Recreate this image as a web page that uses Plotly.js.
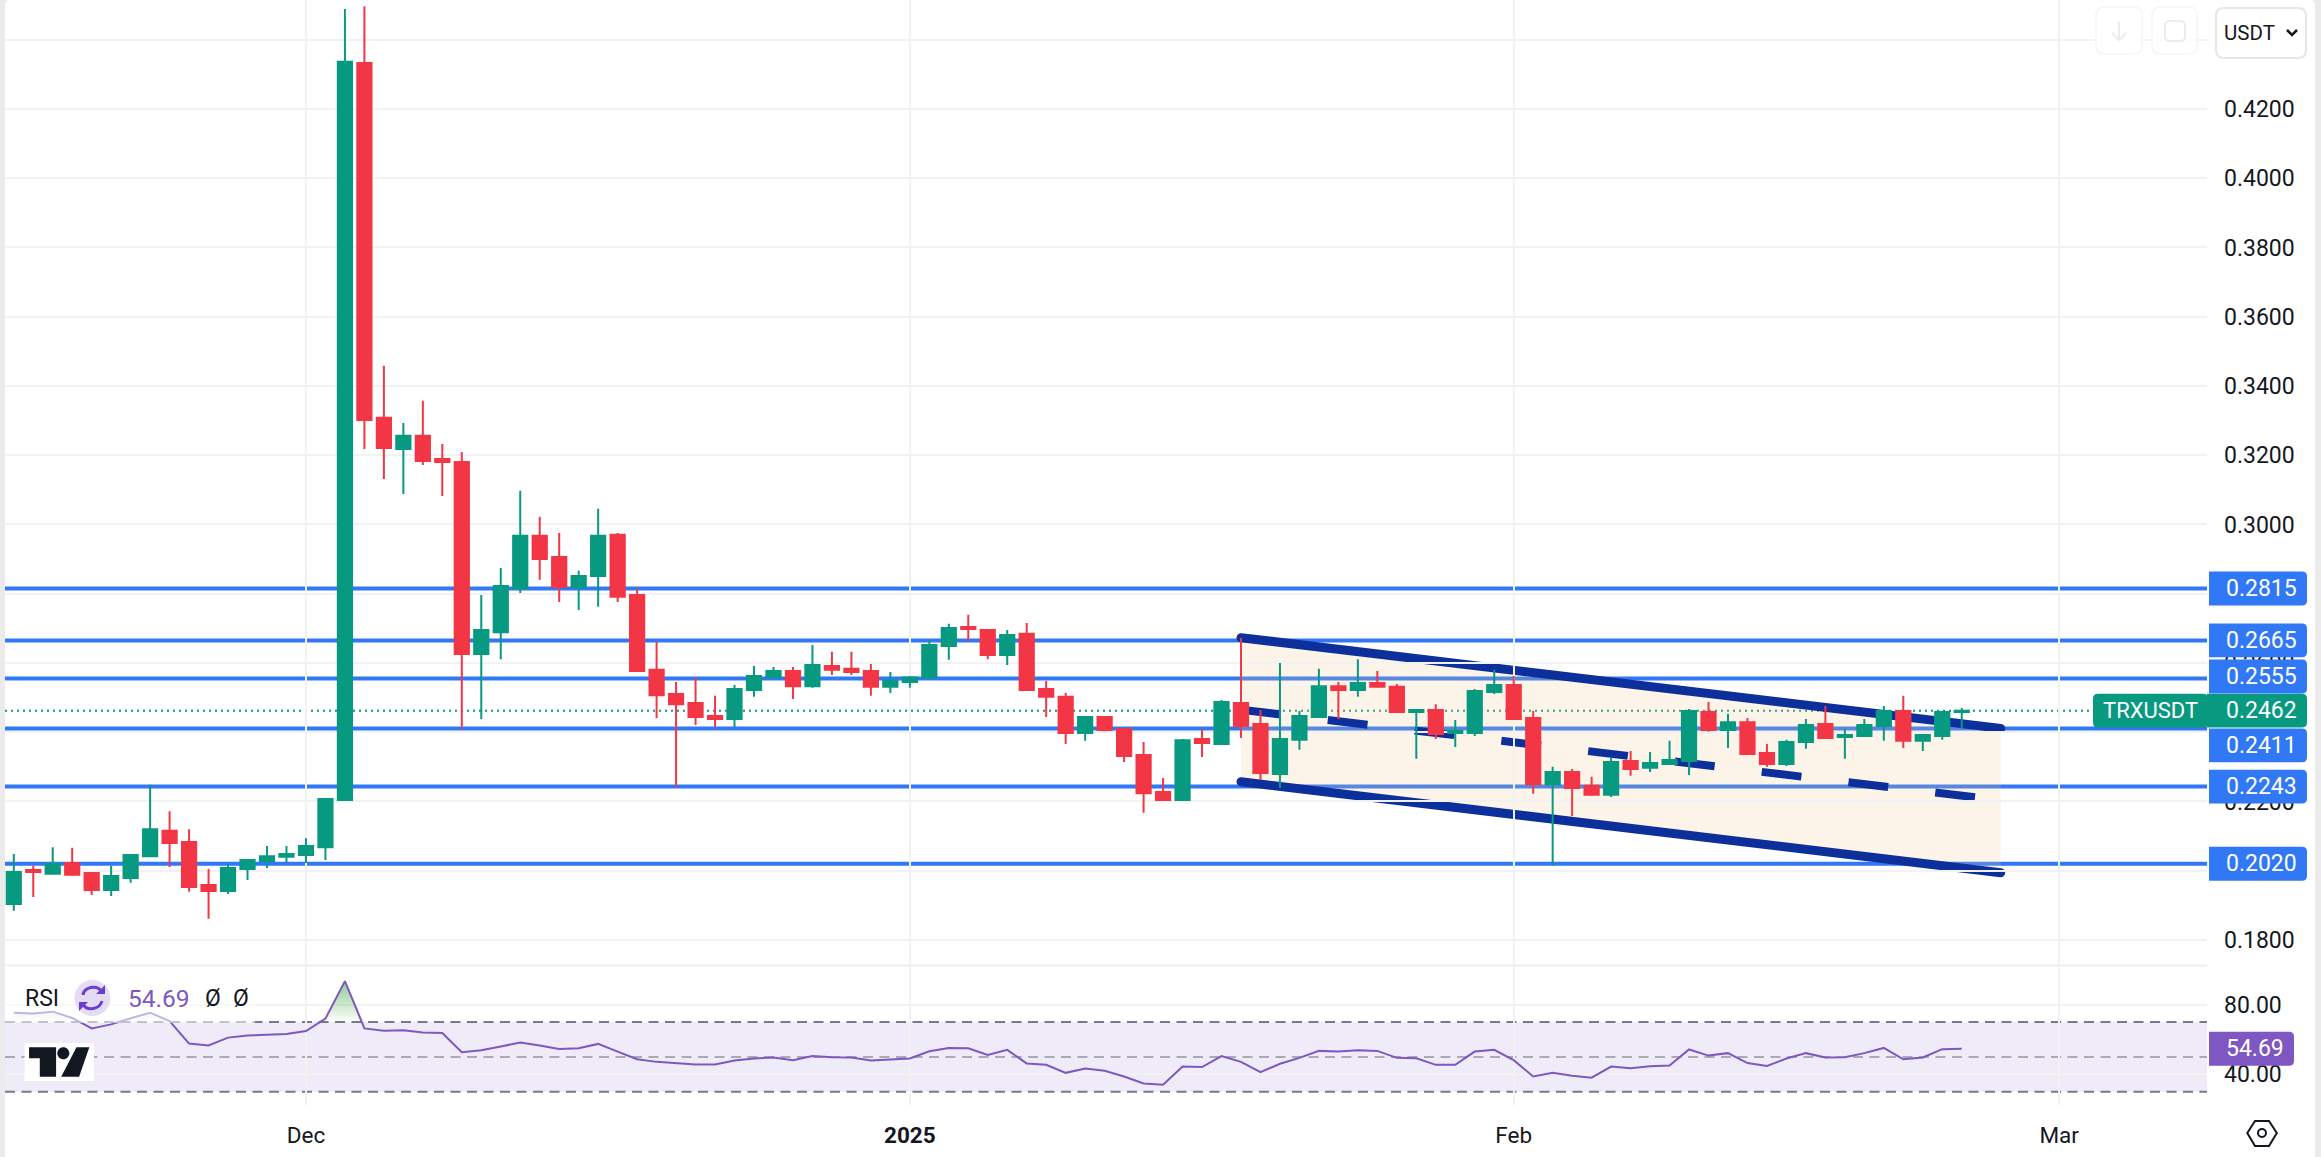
<!DOCTYPE html>
<html>
<head>
<meta charset="utf-8">
<script src="https://cdn.plot.ly/plotly-3.0.1.min.js"></script>
<style>
html,body{margin:0;padding:0;background:#fff;overflow:hidden}
#chart{width:2321px;height:1157px}
.shapelayer path[style*="stroke-width: 9"]{stroke-linecap:round}
</style>
</head>
<body>
<div id="chart"></div>
<script>
// ---------- data ----------
const startDate = '2024-11-16';
const candleOpen = [
.1904,.2002,.1991,.2022,.1993,.1944,.1979,.2042,.2115,.2083,.1959,.1941,.2005,.2028,.2040,
.2045,.2068,.2204,.4333,.3308,.3218,.3256,.3189,.3180,.2626,.2689,.2816,.2967,.2906,.2819,.2851,.2970,.2796,.2580,.2510,.2484,.2447,.2438,.2522,.2559,.2577,.2533,.2591,.2583,.2577,.2531,
.2545,.2558,.2649,.2704,.2695,.2623,.2684,.2525,.2502,.2398,.2444,.2409,.2334,.2227,.2204,.2380,.2366,.2484,.2424,.2279,.2378,.2444,.2533,.2522,.2542,.2531,.2458,.2464,.2398,.2398,.2516,
.2536,.2441,.2250,.2285,.2245,.2219,.2317,.2297,.2308,.2317,.2458,.2406,.2429,.2340,.2308,.2372,.2424,.2386,.2389,.2418,.2461,.2375,.2389,.2458];
const candleHigh = [
.2048,.2014,.2068,.2066,.1996,.2014,.2045,.2248,.2172,.2120,.2005,.2019,.2034,.2071,.2071,
.2094,.2207,.4489,.4497,.3458,.3293,.3357,.3232,.3209,.2796,.2874,.3097,.3022,.2975,.2866,.3045,.2975,.2814,.2661,.2545,.2559,.2505,.2536,.2591,.2588,.2588,.2652,.2632,.2632,.2597,.2574,
.2562,.2666,.2713,.2739,.2695,.2695,.2715,.2548,.2513,.2447,.2444,.2412,.2372,.2268,.2380,.2409,.2493,.2672,.2464,.2600,.2461,.2583,.2545,.2611,.2577,.2539,.2467,.2481,.2435,.2525,.2580,
.2562,.2461,.2300,.2294,.2271,.2326,.2346,.2343,.2375,.2467,.2487,.2453,.2441,.2366,.2378,.2438,.2476,.2409,.2438,.2476,.2505,.2395,.2458,.2470];
const candleLow = [
.1884,.1924,.1991,.1985,.1930,.1927,.1965,.2042,.2011,.1939,.1861,.1933,.1973,.2008,.2025,
.2022,.2031,.2204,.3218,.3131,.3088,.3172,.3082,.2409,.2438,.2611,.2802,.2840,.2776,.2753,.2762,.2776,.2574,.2441,.2242,.2421,.2415,.2415,.2502,.2554,.2496,.2528,.2565,.2565,.2505,.2513,
.2528,.2558,.2609,.2663,.2611,.2594,.2522,.2444,.2366,.2375,.2403,.2314,.2167,.2201,.2204,.2328,.2366,.2383,.2262,.2239,.2349,.2444,.2438,.2502,.2528,.2458,.2323,.2380,.2357,.2389,.2510,
.2438,.2222,.2014,.2158,.2216,.2213,.2274,.2285,.2305,.2276,.2401,.2354,.2337,.2300,.2302,.2352,.2380,.2323,.2389,.2375,.2354,.2346,.2378,.2412];
const candleClose = [
.1996,.1996,.2019,.1988,.1944,.1985,.2045,.2120,.2080,.1953,.1941,.2008,.2031,.2042,.2048,
.2071,.2207,.4336,.3302,.3221,.3256,.3183,.3180,.2626,.2695,.2822,.2967,.2900,.2819,.2851,.2967,.2791,.2577,.2507,.2481,.2444,.2438,.2525,.2562,.2577,.2533,.2594,.2580,.2574,.2531,.2548,
.2558,.2652,.2701,.2698,.2623,.2681,.2522,.2502,.2398,.2444,.2406,.2331,.2224,.2204,.2377,.2369,.2487,.2418,.2282,.2380,.2447,.2533,.2522,.2542,.2531,.2458,.2464,.2395,.2404,.2519,.2536,
.2438,.2250,.2285,.2239,.2219,.2314,.2294,.2311,.2320,.2461,.2406,.2429,.2337,.2308,.2372,.2421,.2383,.2392,.2421,.2461,.2375,.2392,.2458,.2462];
const rsiValues = [
75.4,75.0,76.0,72.4,66.4,68.7,72.2,75.4,70.6,57.7,56.6,61.1,62.3,62.8,63.2,
64.9,72.0,93.5,66.4,65.1,65.3,64.0,63.8,52.7,53.9,56.0,58.3,56.6,54.6,55.0,57.5,53.1,48.7,47.2,46.6,45.7,45.7,48.0,49.1,49.7,48.2,50.5,49.9,49.7,48.0,48.6,
49.1,53.3,55.2,55.0,51.2,54.1,46.3,45.5,40.9,43.4,42.1,38.8,34.8,34.1,44.5,44.2,50.5,47.2,41.3,46.1,49.5,53.5,53.1,53.9,53.5,49.5,49.3,45.5,45.5,53.1,54.1,
48.2,38.8,40.9,39.2,38.1,44.5,43.6,44.7,45.1,54.3,50.8,52.2,46.5,44.9,49.1,52.2,49.7,49.9,52.2,55.2,48.7,49.7,54.5,54.69];
const levelValues = [0.2815,0.2665,0.2555,0.2411,0.2243,0.2020];
const levelLabels = ['0.2815','0.2665','0.2555','0.2411','0.2243','0.2020'];
const levelLabelShift = [0,0,2,-17,0,0];
const lastPrice = 0.2462;
const lastPriceLabel = '0.2462';
const symbolLabel = 'TRXUSDT';
const rsiLast = 54.69;
const rsiLastLabel = '54.69';
const priceTicks = [0.18,0.20,0.22,0.24,0.26,0.28,0.30,0.32,0.34,0.36,0.38,0.40,0.42,0.44];
const priceTickLabels = ['0.1800','','0.2200','','0.2600','','0.3000','0.3200','0.3400','0.3600','0.3800','0.4000','0.4200',''];
const rsiTicks = [40,80];
const rsiTickLabels = ['40.00','80.00'];
const timeTicks = ['2024-12-01','2025-01-01','2025-02-01','2025-03-01'];
const timeTickLabels = ['Dec','<b>2025</b>','Feb','Mar'];
const channelX = ['2025-01-18','2025-02-26'];
const channelUpper = [0.2673,0.2411];
const channelLower = [0.2257,0.1994];
const channelMid = [0.2465,0.2203];

// ---------- styles ----------
const UP='#089981', DOWN='#f23645', BLUE='#3078f5', NAVY='#0d2f9b', PURPLE='#7e57c2', GRID='#f2f2f2';
const FONT='Roboto, sans-serif';
const W=2321,H=1157,L=5,R=2207,B=1105;
const px=x=>(x-L)/(R-L), py=y=>(B-y)/B;

const dates=candleOpen.map((_,i)=>{const d=new Date(startDate+'T00:00:00Z');d.setUTCDate(d.getUTCDate()+i);return d.toISOString().slice(0,10);});

// absolute-pixel chrome helpers
function pp(cmds){return cmds.map(c=>{let s=c[0];for(let i=1;i<c.length;i+=2)s+=(i>1?' ':'')+px(c[i])+','+py(c[i+1]);return s;}).join(' ');}
function chrome(cmds,o){return Object.assign({type:'path',xref:'paper',yref:'paper',layer:'above',path:pp(cmds),line:{width:0}},o);}
function circle(cx,cy,r){const k=.5523*r;return [['M',cx-r,cy],['C',cx-r,cy-k,cx-k,cy-r,cx,cy-r],['C',cx+k,cy-r,cx+r,cy-k,cx+r,cy],['C',cx+r,cy+k,cx+k,cy+r,cx,cy+r],['C',cx-k,cy+r,cx-r,cy+k,cx-r,cy],['Z']];}
function rrect(x0,y0,x1,y1,r){return [['M',x0+r,y0],['L',x1-r,y0],['Q',x1,y0,x1,y0+r],['L',x1,y1-r],['Q',x1,y1,x1-r,y1],['L',x0+r,y1],['Q',x0,y1,x0,y1-r],['L',x0,y0+r],['Q',x0,y0,x0+r,y0],['Z']];}
function note(x,y,text,o){return Object.assign({xref:'paper',yref:'paper',x:px(x),y:py(y),text,showarrow:false,xanchor:'left',yanchor:'middle',borderpad:0,font:{family:FONT,size:23,color:'#131722'}},o||{});}

function labelBox(value,x0,x1,color,shift,roundLeft){
  const h=16.9,r=5,w=x1-x0,s=shift||0,rl=roundLeft?r:0;
  const t=s+h,b=s-h;
  return {type:'path',xref:'paper',yref:'y',xsizemode:'pixel',ysizemode:'pixel',xanchor:px(x0),yanchor:value,layer:'above',line:{width:0},fillcolor:color,
    path:`M ${rl},${t} L ${w-r},${t} Q ${w},${t} ${w},${t-r} L ${w},${b+r} Q ${w},${b} ${w-r},${b} L ${rl},${b} ${roundLeft?`Q 0,${b} 0,${b+r} L 0,${t-r} Q 0,${t} ${rl},${t}`:''} Z`};
}

// ---------- shapes ----------
const shapes=[];
levelValues.forEach(v=>shapes.push({type:'line',xref:'paper',yref:'y',x0:0,x1:1,y0:v,y1:v,layer:'below',line:{color:BLUE,width:4}}));
shapes.push({type:'path',xref:'x',yref:'y',layer:'below',line:{width:0},fillcolor:'rgba(240,200,145,0.2)',
  path:`M ${channelX[0]},${channelUpper[0]} L ${channelX[1]},${channelUpper[1]} L ${channelX[1]},${channelLower[1]} L ${channelX[0]},${channelLower[0]} Z`});
shapes.push({type:'line',xref:'paper',yref:'y',x0:0,x1:1,y0:lastPrice,y1:lastPrice,layer:'below',line:{color:UP,width:2,dash:'2px,4px'}});
shapes.push({type:'line',xref:'x',yref:'y',x0:channelX[0],x1:channelX[1],y0:channelUpper[0],y1:channelUpper[1],layer:'below',line:{color:NAVY,width:9}});
shapes.push({type:'line',xref:'x',yref:'y',x0:channelX[0],x1:channelX[1],y0:channelLower[0],y1:channelLower[1],layer:'below',line:{color:NAVY,width:9}});
shapes.push({type:'line',xref:'x',yref:'y',x0:channelX[0],x1:channelX[1],y0:channelMid[0],y1:channelMid[1],layer:'below',line:{color:NAVY,width:8,dash:'40px,47.4px'}});
// RSI band
shapes.push({type:'rect',xref:'paper',yref:'y2',x0:0,x1:1,y0:30,y1:70,layer:'below',line:{width:0},fillcolor:'rgba(126,87,194,0.12)'});
[[70,'#787b86'],[30,'#787b86'],[50,'#a9aab2']].forEach(([v,c])=>shapes.push({type:'line',xref:'paper',yref:'y2',x0:0,x1:1,y0:v,y1:v,layer:'below',line:{color:c,width:2,dash:'10px,6.5px'}}));
// pane separator
shapes.push({type:'line',xref:'paper',yref:'paper',x0:0,x1:1,y0:py(965.5),y1:py(965.5),layer:'above',line:{color:'#eeeeee',width:2}});
// legend veil
shapes.push({type:'rect',xref:'paper',yref:'paper',x0:px(5),x1:px(255),y0:py(978),y1:py(1023),layer:'above',line:{width:0},fillcolor:'rgba(255,255,255,0.55)'});
// rsi icon
shapes.push(chrome(circle(92.4,998,18),{fillcolor:'#e4dcf5'}));
shapes.push(chrome([['M',83,995],['C',84,987,97,984,102,992]],{line:{color:'#6a3fd0',width:3}}));
shapes.push(chrome([['M',102,1001],['C',100,1009,87,1012,83,1004]],{line:{color:'#6a3fd0',width:3}}));
shapes.push(chrome([['M',105,985],['L',105,994],['L',96,994],['Z']],{fillcolor:'#6a3fd0'}));
shapes.push(chrome([['M',79,1011],['L',79,1002],['L',88,1002],['Z']],{fillcolor:'#6a3fd0'}));
// logo
shapes.push(chrome(rrect(24.5,1043,94,1081,1),{fillcolor:'#ffffff'}));
shapes.push(chrome([['M',29.1,1047.3],['L',56.1,1047.3],['L',56.1,1076.7],['L',39.8,1076.7],['L',39.8,1058.3],['L',29.1,1058.3],['Z']],{fillcolor:'#131722'}));
shapes.push(chrome(circle(63.3,1053.3,6),{fillcolor:'#131722'}));
shapes.push(chrome([['M',76.5,1047.3],['L',89.3,1047.3],['L',79.1,1076.7],['L',61.2,1076.7],['Z']],{fillcolor:'#131722'}));
// price labels
levelValues.forEach((v,i)=>shapes.push(labelBox(v,2209,2307,BLUE,levelLabelShift[i],false)));
shapes.push(labelBox(lastPrice,2093,2208,UP,0,true));
shapes.push(labelBox(lastPrice,2207,2307,UP,0,false));
shapes.push({type:'path',xref:'paper',yref:'y2',xsizemode:'pixel',ysizemode:'pixel',xanchor:px(2209),yanchor:rsiLast,layer:'above',line:{width:0},fillcolor:PURPLE,
  path:'M 0,17 L 80,17 Q 85,17 85,12 L 85,-12 Q 85,-17 80,-17 L 0,-17 Z'});
// buttons
shapes.push(chrome(rrect(2216,8,2306,58,8),{fillcolor:'#ffffff',line:{color:'#e6e6e6',width:2}}));
shapes.push(chrome([['M',2287,30],['L',2292,35],['L',2297,30]],{line:{color:'#131722',width:2.5}}));
shapes.push(chrome(rrect(2096,7,2142,54,8),{fillcolor:'rgba(255,255,255,0.8)',line:{color:'#f7f7f7',width:2}}));
shapes.push(chrome(rrect(2152,7,2197,54,8),{fillcolor:'rgba(255,255,255,0.8)',line:{color:'#f7f7f7',width:2}}));
shapes.push(chrome([['M',2119,22],['L',2119,40],['M',2112,33],['L',2119,40],['L',2126,33]],{line:{color:'#ececec',width:2}}));
shapes.push(chrome(rrect(2165,21,2185,41,5),{line:{color:'#ececec',width:2}}));
// settings hexagon
shapes.push(chrome([['M',2247.3,1133],['L',2255,1121],['L',2269,1121],['L',2276.8,1133],['L',2269,1146],['L',2255,1146],['Z']],{line:{color:'#131722',width:2}}));
shapes.push(chrome(circle(2262,1133,4),{line:{color:'#131722',width:2}}));
// window borders
shapes.push({type:'rect',xref:'paper',yref:'paper',x0:px(0),x1:px(5),y0:py(H),y1:py(0),layer:'above',line:{width:0},fillcolor:'#ebebeb'});
shapes.push({type:'rect',xref:'paper',yref:'paper',x0:px(2315),x1:px(W),y0:py(H),y1:py(0),layer:'above',line:{width:0},fillcolor:'#ebebeb'});
shapes.push(chrome([['M',5,0],['L',9,0],['Q',5,1,5,6],['Z']],{fillcolor:'#ebebeb'}));
shapes.push(chrome([['M',2315,0],['L',2311,0],['Q',2315,1,2315,6],['Z']],{fillcolor:'#ebebeb'}));

// ---------- annotations ----------
const annotations=[];
levelValues.forEach((v,i)=>annotations.push({xref:'paper',yref:'y',x:px(2224.5),y:v,yshift:levelLabelShift[i],text:levelLabels[i],showarrow:false,xanchor:'left',yanchor:'middle',borderpad:0,font:{family:FONT,size:23,color:'#ffffff'}}));
annotations.push({xref:'paper',yref:'y',x:px(2224.5),y:lastPrice,text:lastPriceLabel,showarrow:false,xanchor:'left',yanchor:'middle',borderpad:0,font:{family:FONT,size:23,color:'#ffffff'}});
annotations.push({xref:'paper',yref:'y',x:px(2102),y:lastPrice,text:symbolLabel,showarrow:false,xanchor:'left',yanchor:'middle',borderpad:0,font:{family:FONT,size:22,color:'#ffffff'}});
annotations.push({xref:'paper',yref:'y2',x:px(2224.5),y:rsiLast,text:rsiLastLabel,showarrow:false,xanchor:'left',yanchor:'middle',borderpad:0,font:{family:FONT,size:23,color:'#ffffff'}});
annotations.push(note(24,998,'RSI',{font:{family:FONT,size:23,color:'#131722'}}));
annotations.push(note(126.5,998,rsiLastLabel,{font:{family:FONT,size:24.5,color:PURPLE}}));
annotations.push(note(204,998,'Ø',{font:{family:FONT,size:23,color:'#131722'}}));
annotations.push(note(232,998,'Ø',{font:{family:FONT,size:23,color:'#131722'}}));
annotations.push(note(2223,33,'USDT',{font:{family:FONT,size:20.5,color:'#131722'}}));

// ---------- traces ----------
const traces=[
 {type:'candlestick',x:dates,open:candleOpen,high:candleHigh,low:candleLow,close:candleClose,xaxis:'x',yaxis:'y',whiskerwidth:0,
  increasing:{line:{color:UP,width:2},fillcolor:UP},decreasing:{line:{color:DOWN,width:2},fillcolor:DOWN},hoverinfo:'skip',showlegend:false},
 {type:'scatter',mode:'lines',x:dates,y:dates.map(()=>70),xaxis:'x',yaxis:'y2',line:{width:0,color:'rgba(0,0,0,0)'},hoverinfo:'skip',showlegend:false},
 {type:'scatter',mode:'lines',x:dates,y:rsiValues.map(v=>Math.max(v,70)),xaxis:'x',yaxis:'y2',fill:'tonexty',
  fillgradient:{type:'vertical',start:93,stop:70,colorscale:[[0,'rgba(76,175,80,0.62)'],[1,'rgba(76,175,80,0.02)']]},line:{width:0,color:'rgba(0,0,0,0)'},hoverinfo:'skip',showlegend:false},
 {type:'scatter',mode:'lines',x:dates,y:rsiValues,xaxis:'x',yaxis:'y2',line:{color:PURPLE,width:2},hoverinfo:'skip',showlegend:false}
];

const layout={
 width:W,height:H,autosize:false,showlegend:false,
 margin:{l:L,r:W-R,t:0,b:H-B,pad:0},
 paper_bgcolor:'#ffffff',plot_bgcolor:'#ffffff',
 font:{family:FONT,size:23,color:'#131722'},
 boxgap:0.27,boxgroupgap:0,
 xaxis:{type:'date',anchor:'y2',range:['2024-11-15 13:12','2025-03-08 14:10'],tickmode:'array',tickvals:timeTicks,ticktext:timeTickLabels,
   showgrid:true,gridcolor:GRID,gridwidth:2,ticks:'',ticklabelstandoff:14,tickangle:0,zeroline:false,showline:false,
   rangeslider:{visible:false},tickfont:{family:FONT,size:22.5,color:'#131722'},fixedrange:true},
 yaxis:{domain:[1-965/B,1],side:'right',anchor:'x',range:[0.17276,0.45147],tickmode:'array',tickvals:priceTicks,ticktext:priceTickLabels,
   showgrid:true,gridcolor:GRID,gridwidth:2,ticks:'',ticklabelstandoff:16,zeroline:false,showline:false,tickfont:{family:FONT,size:23,color:'#131722'},fixedrange:true},
 yaxis2:{domain:[0,1-966.5/B],side:'right',anchor:'x',range:[22.46,101.9],tickmode:'array',tickvals:rsiTicks,ticktext:rsiTickLabels,
   showgrid:true,gridcolor:GRID,gridwidth:2,ticks:'',ticklabelstandoff:16,zeroline:false,showline:false,tickfont:{family:FONT,size:23,color:'#131722'},fixedrange:true},
 shapes,annotations
};
Plotly.newPlot('chart',traces,layout,{staticPlot:true,displayModeBar:false,responsive:false});
</script>
</body>
</html>
